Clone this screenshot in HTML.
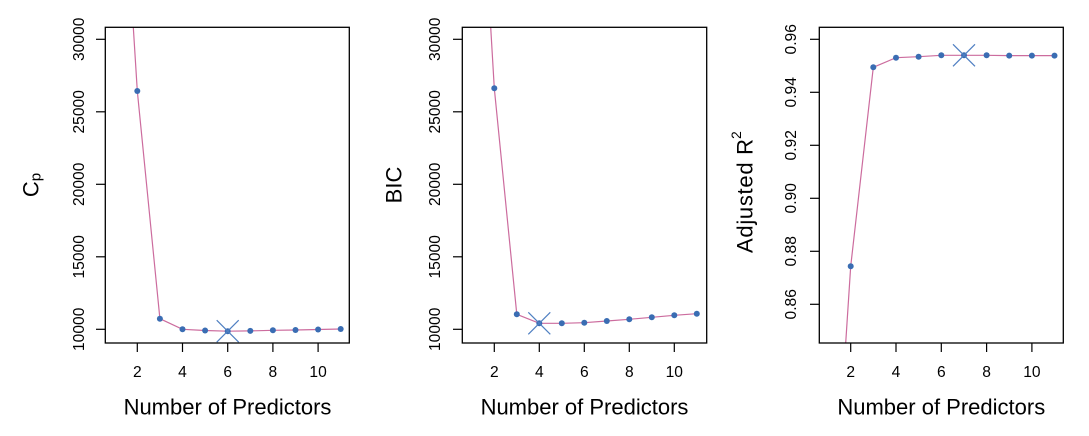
<!DOCTYPE html>
<html>
<head>
<meta charset="utf-8">
<style>
html,body{margin:0;padding:0;background:#fff;width:1089px;height:436px;overflow:hidden;}
svg{display:block;}
text{font-family:"Liberation Sans",Arial,sans-serif;fill:#000;}
</style>
</head>
<body>
<svg width="1089" height="436" viewBox="0 0 1089 436" xmlns="http://www.w3.org/2000/svg">

<!-- ===== Panel 1: Cp ===== -->
<polyline fill="none" stroke="#cc6c9e" stroke-width="1.2" points="133.3,27.3 137.3,91 159.9,318.7 182.5,329.3 205.1,330.5 227.7,331.2 250.3,330.9 272.9,330.3 295.5,330 318.1,329.5 340.7,329"/>
<g fill="#3a6db3">
<circle cx="137.3" cy="91" r="3"/><circle cx="159.9" cy="318.7" r="3"/><circle cx="182.5" cy="329.3" r="3"/><circle cx="205.1" cy="330.5" r="3"/><circle cx="227.7" cy="331.2" r="3"/><circle cx="250.3" cy="330.9" r="3"/><circle cx="272.9" cy="330.3" r="3"/><circle cx="295.5" cy="330" r="3"/><circle cx="318.1" cy="329.5" r="3"/><circle cx="340.7" cy="329" r="3"/>
</g>
<g stroke="#4f7fc2" stroke-width="1.2"><line x1="216.7" y1="320.2" x2="238.7" y2="342.2"/><line x1="216.7" y1="342.2" x2="238.7" y2="320.2"/></g>
<rect x="105.3" y="27.3" width="244" height="315.7" fill="none" stroke="#000" stroke-width="1.3"/>
<g stroke="#000" stroke-width="1.2">
<line x1="137.3" y1="343" x2="137.3" y2="352"/><line x1="182.5" y1="343" x2="182.5" y2="352"/><line x1="227.7" y1="343" x2="227.7" y2="352"/><line x1="272.9" y1="343" x2="272.9" y2="352"/><line x1="318.1" y1="343" x2="318.1" y2="352"/>
<line x1="96" y1="39.3" x2="105.3" y2="39.3"/><line x1="96" y1="111.8" x2="105.3" y2="111.8"/><line x1="96" y1="184.3" x2="105.3" y2="184.3"/><line x1="96" y1="256.8" x2="105.3" y2="256.8"/><line x1="96" y1="329.3" x2="105.3" y2="329.3"/>
</g>
<g font-size="15.6" text-anchor="middle">
<text x="137.3" y="377">2</text><text x="182.5" y="377">4</text><text x="227.7" y="377">6</text><text x="272.9" y="377">8</text><text x="318.1" y="377">10</text>
<text transform="translate(84,39.3) rotate(-90)">30000</text>
<text transform="translate(84,111.8) rotate(-90)">25000</text>
<text transform="translate(84,184.3) rotate(-90)">20000</text>
<text transform="translate(84,256.8) rotate(-90)">15000</text>
<text transform="translate(84,329.3) rotate(-90)">10000</text>
</g>
<text x="227.5" y="414.3" font-size="22" text-anchor="middle">Number of Predictors</text>
<text transform="translate(38.5,185) rotate(-90)" font-size="22" text-anchor="middle">C<tspan font-size="15" dy="2">p</tspan></text>

<!-- ===== Panel 2: BIC ===== -->
<polyline fill="none" stroke="#cc6c9e" stroke-width="1.2" points="490.7,27.3 494.3,88.3 516.8,314.3 539.3,323.3 561.8,323.3 584.3,322.7 606.8,321 629.3,319.3 651.8,317.3 674.3,315.3 696.8,313.7"/>
<g fill="#3a6db3">
<circle cx="494.3" cy="88.3" r="3"/><circle cx="516.8" cy="314.3" r="3"/><circle cx="539.3" cy="323.3" r="3"/><circle cx="561.8" cy="323.3" r="3"/><circle cx="584.3" cy="322.7" r="3"/><circle cx="606.8" cy="321" r="3"/><circle cx="629.3" cy="319.3" r="3"/><circle cx="651.8" cy="317.3" r="3"/><circle cx="674.3" cy="315.3" r="3"/><circle cx="696.8" cy="313.7" r="3"/>
</g>
<g stroke="#4f7fc2" stroke-width="1.2"><line x1="528.3" y1="312.3" x2="550.3" y2="334.3"/><line x1="528.3" y1="334.3" x2="550.3" y2="312.3"/></g>
<rect x="462.3" y="27.3" width="244.4" height="315.7" fill="none" stroke="#000" stroke-width="1.3"/>
<g stroke="#000" stroke-width="1.2">
<line x1="494.3" y1="343" x2="494.3" y2="352"/><line x1="539.3" y1="343" x2="539.3" y2="352"/><line x1="584.3" y1="343" x2="584.3" y2="352"/><line x1="629.3" y1="343" x2="629.3" y2="352"/><line x1="674.3" y1="343" x2="674.3" y2="352"/>
<line x1="453" y1="39.3" x2="462.3" y2="39.3"/><line x1="453" y1="111.8" x2="462.3" y2="111.8"/><line x1="453" y1="184.3" x2="462.3" y2="184.3"/><line x1="453" y1="256.8" x2="462.3" y2="256.8"/><line x1="453" y1="329.3" x2="462.3" y2="329.3"/>
</g>
<g font-size="15.6" text-anchor="middle">
<text x="494.3" y="377">2</text><text x="539.3" y="377">4</text><text x="584.3" y="377">6</text><text x="629.3" y="377">8</text><text x="674.3" y="377">10</text>
<text transform="translate(440,39.3) rotate(-90)">30000</text>
<text transform="translate(440,111.8) rotate(-90)">25000</text>
<text transform="translate(440,184.3) rotate(-90)">20000</text>
<text transform="translate(440,256.8) rotate(-90)">15000</text>
<text transform="translate(440,329.3) rotate(-90)">10000</text>
</g>
<text x="584.5" y="414.3" font-size="22" text-anchor="middle">Number of Predictors</text>
<text transform="translate(401.5,185) rotate(-90)" font-size="22" text-anchor="middle">BIC</text>

<!-- ===== Panel 3: Adjusted R^2 ===== -->
<polyline fill="none" stroke="#cc6c9e" stroke-width="1.2" points="845.7,343 850.7,266.3 873.3,67.3 896,57.7 918.6,56.7 941.3,55.3 964,55.3 986.6,55.3 1009.2,55.6 1031.9,55.6 1054.5,55.6"/>
<g fill="#3a6db3">
<circle cx="850.7" cy="266.3" r="3"/><circle cx="873.3" cy="67.3" r="3"/><circle cx="896" cy="57.7" r="3"/><circle cx="918.6" cy="56.7" r="3"/><circle cx="941.3" cy="55.3" r="3"/><circle cx="964" cy="55.3" r="3"/><circle cx="986.6" cy="55.3" r="3"/><circle cx="1009.2" cy="55.6" r="3"/><circle cx="1031.9" cy="55.6" r="3"/><circle cx="1054.5" cy="55.6" r="3"/>
</g>
<g stroke="#4f7fc2" stroke-width="1.2"><line x1="953" y1="44.3" x2="975" y2="66.3"/><line x1="953" y1="66.3" x2="975" y2="44.3"/></g>
<rect x="819.3" y="27.3" width="244" height="315.7" fill="none" stroke="#000" stroke-width="1.3"/>
<g stroke="#000" stroke-width="1.2">
<line x1="850.7" y1="343" x2="850.7" y2="352"/><line x1="896" y1="343" x2="896" y2="352"/><line x1="941.3" y1="343" x2="941.3" y2="352"/><line x1="986.6" y1="343" x2="986.6" y2="352"/><line x1="1031.9" y1="343" x2="1031.9" y2="352"/>
<line x1="810" y1="39.3" x2="819.3" y2="39.3"/><line x1="810" y1="92.3" x2="819.3" y2="92.3"/><line x1="810" y1="145.3" x2="819.3" y2="145.3"/><line x1="810" y1="198.3" x2="819.3" y2="198.3"/><line x1="810" y1="251.3" x2="819.3" y2="251.3"/><line x1="810" y1="304.3" x2="819.3" y2="304.3"/>
</g>
<g font-size="15.6" text-anchor="middle">
<text x="850.7" y="377">2</text><text x="896" y="377">4</text><text x="941.3" y="377">6</text><text x="986.6" y="377">8</text><text x="1031.9" y="377">10</text>
<text transform="translate(796,39.3) rotate(-90)">0.96</text>
<text transform="translate(796,92.3) rotate(-90)">0.94</text>
<text transform="translate(796,145.3) rotate(-90)">0.92</text>
<text transform="translate(796,198.3) rotate(-90)">0.90</text>
<text transform="translate(796,251.3) rotate(-90)">0.88</text>
<text transform="translate(796,304.3) rotate(-90)">0.86</text>
</g>
<text x="941.3" y="414.3" font-size="22" text-anchor="middle">Number of Predictors</text>
<text transform="translate(752.5,253) rotate(-90)" font-size="22" text-anchor="start" textLength="114" lengthAdjust="spacing">Adjusted R</text>
<text transform="translate(741,139) rotate(-90)" font-size="14" text-anchor="start">2</text>
</svg>
</body>
</html>
